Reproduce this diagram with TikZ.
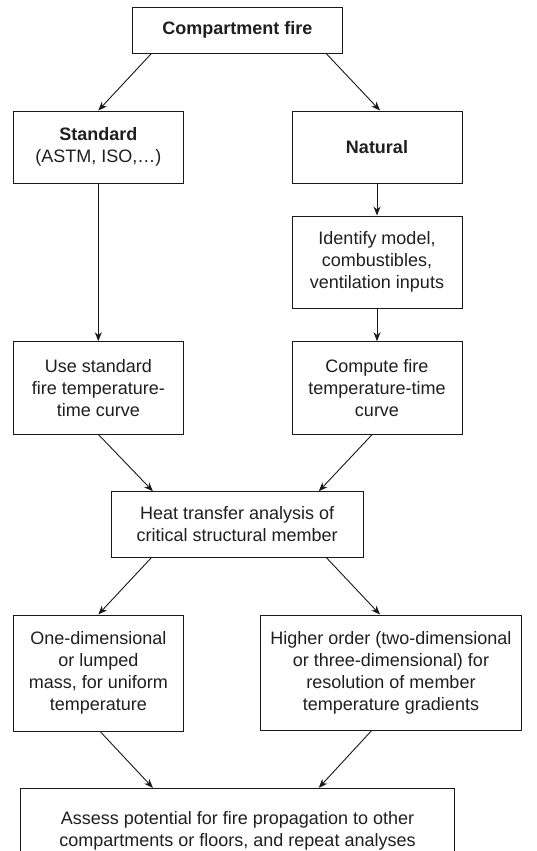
\documentclass[tikz,border=0pt]{standalone}
\usepackage{fontspec}
\setmainfont{Liberation Sans}
\usetikzlibrary{arrows.meta}
\begin{document}
\begin{tikzpicture}[x=1pt,y=-1pt,
  box/.style={draw=black!90, line width=0.9pt, align=center, inner sep=0pt,
    font=\fontsize{18}{22}\selectfont, text=black!88},
  arr/.style={draw=black!90, line width=0.9pt, -{Stealth[length=9pt,width=7pt]}}]
\useasboundingbox (0,0) rectangle (536,851);
\fill[white] (0,0) rectangle (536,851);
\clip (0,0) rectangle (536,851);

\node[box, minimum width=210.7pt, minimum height=46pt] (top) at (237.3,30.3) {\bfseries Compartment fire};
\node[box, minimum width=170pt, minimum height=72pt] (std) at (98.3,147) {\bfseries Standard\\(ASTM, ISO,…)};
\node[box, minimum width=170pt, minimum height=72pt] (nat) at (377,147) {\bfseries Natural};
\node[box, minimum width=170pt, minimum height=92.7pt] (ident) at (377,262.3) {Identify model,\\combustibles,\\ventilation inputs};
\node[box, minimum width=170pt, minimum height=92.3pt] (use) at (98.3,387.8) {Use standard\\fire temperature-\\time curve};
\node[box, minimum width=170pt, minimum height=92.3pt] (comp) at (377,387.8) {Compute fire\\temperature-time\\curve};
\node[box, minimum width=252.3pt, minimum height=65.6pt] (heat) at (237.2,524.5) {Heat transfer analysis of\\critical structural member};
\node[box, minimum width=170pt, minimum height=116.7pt] (one) at (98.3,673.3) {One-dimensional\\or lumped\\mass, for uniform\\temperature};
\node[box, minimum width=261.4pt, minimum height=115pt] (high) at (391,672.5) {Higher order (two-dimensional\\or three-dimensional) for\\resolution of member\\temperature gradients};
\node[box, minimum width=433.6pt, minimum height=85.4pt] (assess) at (237.5,831) {Assess potential for fire propagation to other\\compartments or floors, and repeat analyses};

\draw[arr] ([xshift=19.7pt]top.south west) -- (std.north);
\draw[arr] ([xshift=-16.7pt]top.south east) -- ([xshift=3pt]nat.north);
\draw[arr] (std.south) -- (use.north);
\draw[arr] (nat.south) -- (ident.north);
\draw[arr] (ident.south) -- (comp.north);
\draw[arr] (use.south) -- ([xshift=42.3pt]heat.north west);
\draw[arr] ([xshift=-4.7pt]comp.south) -- ([xshift=-45pt]heat.north east);
\draw[arr] ([xshift=40.7pt]heat.south west) -- (one.north);
\draw[arr] ([xshift=-37.3pt]heat.south east) -- ([xshift=-11pt]high.north);
\draw[arr] ([xshift=2.4pt]one.south) -- ([xshift=132.6pt]assess.north west);
\draw[arr] ([xshift=-19.3pt]high.south) -- ([xshift=-136pt]assess.north east);
\end{tikzpicture}
\end{document}
